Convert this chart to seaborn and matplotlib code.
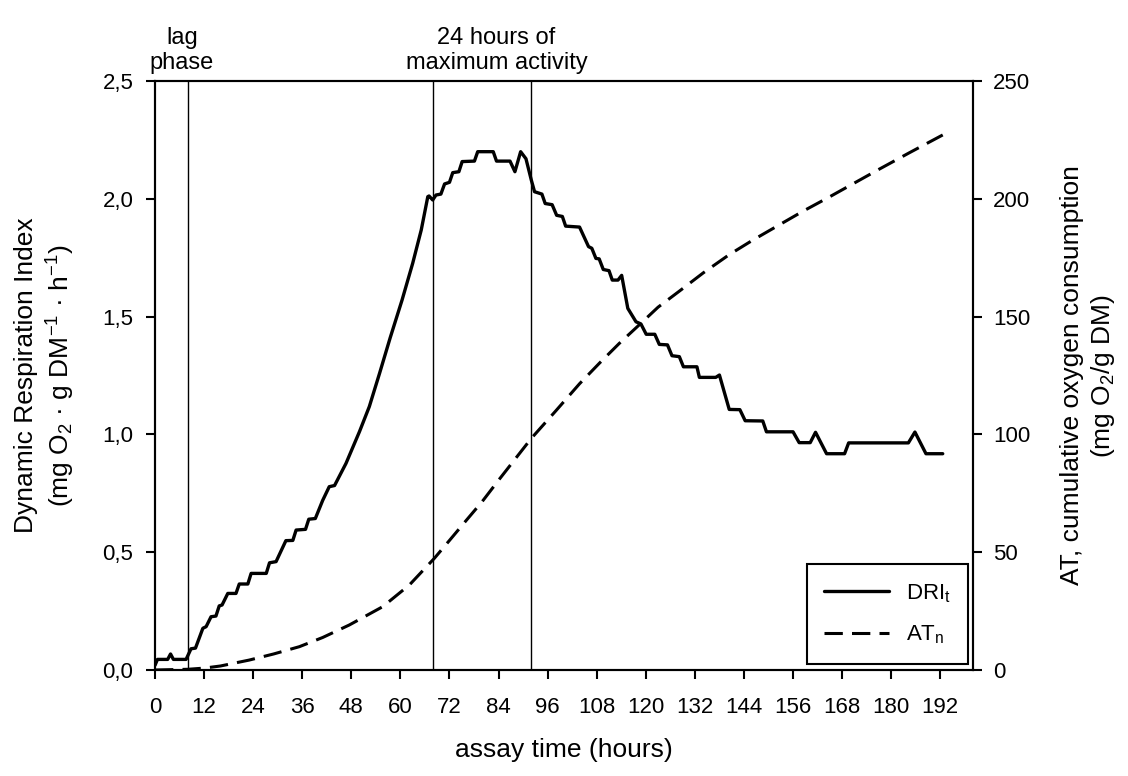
import matplotlib
matplotlib.use("Agg")
import matplotlib.pyplot as plt
import seaborn as sns
import pandas as pd
from matplotlib.ticker import FuncFormatter

# DRI_t (mg O2 / g DM / h)
hours_dri = [0, 0.6, 3.1, 3.8, 4.5, 7.6, 8.8, 9.9, 11.7, 12.5, 13.7, 14.9, 15.7, 16.4,
             17.8, 19.8, 20.6, 22.7, 23.5, 27.2, 28.0, 29.6, 32.0, 33.7, 34.5, 36.8,
             37.6, 39.2, 41.0, 42.6, 43.9, 46.7, 50.0, 52.4, 54.9, 57.5, 60.4, 63.0,
             65.1, 66.7, 67.0, 67.9, 68.7, 69.9, 70.8, 72.0, 72.8, 74.3, 75.1, 78.1,
             78.9, 82.7, 83.5, 86.8, 88.0, 89.4, 90.7, 92.0, 92.8, 94.6, 95.4, 97.1,
             98.2, 99.6, 100.4, 103.8, 106.0, 106.8, 107.8, 108.6, 109.6, 111.0, 111.8,
             113.2, 114.1, 115.6, 117.6, 118.8, 120.1, 122.2, 123.3, 125.3, 126.4,
             128.2, 129.2, 132.5, 133.1, 137.1, 138.0, 140.4, 143.0, 144.3, 148.6,
             149.5, 156.0, 157.5, 160.2, 161.5, 164.2, 168.6, 169.6, 184.2, 185.8,
             188.5, 192.6]
dri = [0.02, 0.045, 0.045, 0.068, 0.045, 0.045, 0.09, 0.093, 0.177, 0.184, 0.226, 0.229,
       0.272, 0.276, 0.325, 0.325, 0.365, 0.365, 0.41, 0.41, 0.455, 0.46, 0.549, 0.55,
       0.594, 0.597, 0.64, 0.643, 0.72, 0.778, 0.783, 0.877, 1.012, 1.118, 1.259, 1.41,
       1.57, 1.726, 1.868, 2.009, 2.012, 1.995, 2.016, 2.02, 2.063, 2.07, 2.111, 2.115,
       2.158, 2.16, 2.2, 2.2, 2.16, 2.16, 2.115, 2.2, 2.17, 2.08, 2.03, 2.02, 1.98,
       1.975, 1.93, 1.925, 1.884, 1.88, 1.797, 1.79, 1.747, 1.745, 1.70, 1.695, 1.655,
       1.655, 1.675, 1.535, 1.478, 1.469, 1.425, 1.425, 1.382, 1.38, 1.334, 1.33,
       1.287, 1.287, 1.242, 1.242, 1.252, 1.106, 1.105, 1.058, 1.057, 1.011, 1.011,
       0.965, 0.965, 1.009, 0.918, 0.918, 0.964, 0.964, 1.01, 0.918, 0.918]

# AT_n, cumulative oxygen consumption (mg O2 / g DM), dashed curve
hours_at = [0, 8, 12, 16, 23, 29, 35.3, 41, 47.5, 55.7, 62.2, 68.3, 72, 76.1, 80, 84.2,
            92, 98, 103.8, 108.7, 113.5, 118.4, 123, 128.2, 134, 140.4, 146, 152.7,
            158.5, 164.9, 171, 177.1, 184.5, 192.6]
at_n = [0, 0.3, 0.8, 1.7, 4.2, 6.8, 9.9, 13.8, 19.1, 26.9, 36.1, 47.4, 55, 63.5, 71.5, 81,
        98.3, 110, 121.5, 130.3, 138.6, 146.5, 154, 160.8, 168.5, 176.3, 182.3, 189,
        194.8, 200.8, 206.7, 212.6, 219.6, 227.1]

phase_marks = [8, 68, 92]
x_ticks = list(range(0, 193, 12))
left_ticks = [0, 0.5, 1.0, 1.5, 2.0, 2.5]
right_ticks = [0, 50, 100, 150, 200, 250]

sns.set_theme(style="ticks")
plt.rcParams["font.family"] = ["Liberation Sans", "DejaVu Sans"]
plt.rcParams["mathtext.default"] = "regular"
plt.rcParams["text.color"] = "black"
plt.rcParams["axes.labelcolor"] = "black"

fig = plt.figure(figsize=(11.28, 7.76), dpi=100)
ax = fig.add_axes([155 / 1128, 1 - 670 / 776, 818 / 1128, 589 / 776])
ax2 = ax.twinx()

dri_df = pd.DataFrame({"time": hours_dri, "dri": dri})
at_df = pd.DataFrame({"time": hours_at, "at": at_n})

for xm in phase_marks:
    ax.axvline(xm, color="black", lw=1.0, zorder=1)

sns.lineplot(data=dri_df, x="time", y="dri", ax=ax, color="black", lw=2.4,
             estimator=None, label=r"DRI$_t$", zorder=3)
sns.lineplot(data=at_df, x="time", y="at", ax=ax2, color="black", lw=2.2,
             estimator=None, label=r"AT$_n$", zorder=3)
ax2.lines[0].set_dashes((6, 3))

ax.set_xlim(0, 200)
ax.set_ylim(0, 2.5)
ax2.set_ylim(0, 250)
ax.set_xticks(x_ticks)
ax.set_yticks(left_ticks)
ax2.set_yticks(right_ticks)
ax.yaxis.set_major_formatter(FuncFormatter(lambda v, p: f"{v:.1f}".replace(".", ",")))

for a in (ax, ax2):
    for s in a.spines.values():
        s.set_visible(True)
        s.set_linewidth(1.5)
        s.set_color("black")
ax.tick_params(axis="x", direction="out", length=6.5, width=1.5, labelsize=16, pad=13, colors="black")
ax.tick_params(axis="y", direction="out", length=6.5, width=1.5, labelsize=16, pad=9, colors="black")
ax2.tick_params(axis="y", direction="out", length=6.5, width=1.5, labelsize=16, pad=8, colors="black")

ax.set_xlabel("assay time (hours)", fontsize=19, labelpad=14)
ax.set_ylabel("Dynamic Respiration Index\n(mg O$_2$ · g DM$^{-1}$ · h$^{-1}$)",
              fontsize=19, labelpad=18, linespacing=1.3)
ax2.set_ylabel("AT, cumulative oxygen consumption\n(mg O$_2$/g DM)",
               fontsize=19, labelpad=21, linespacing=1.25, rotation=90)

tr = ax.get_xaxis_transform()
ax.text(6.6, 1.012, "lag\nphase", transform=tr, ha="center", va="bottom",
        fontsize=17, multialignment="center")
ax.text(83.5, 1.012, "24 hours of\nmaximum activity", transform=tr, ha="center",
        va="bottom", fontsize=17, multialignment="center")

h1, l1 = ax.get_legend_handles_labels()
h2, l2 = ax2.get_legend_handles_labels()
for a in (ax, ax2):
    if a.get_legend() is not None:
        a.get_legend().remove()
leg = ax2.legend(h1 + h2, l1 + l2, loc="lower right", bbox_to_anchor=(0.994, 0.010),
                 borderaxespad=0, fontsize=16, frameon=True, fancybox=False,
                 edgecolor="black", handlelength=2.9, handletextpad=0.75,
                 borderpad=0.8, labelspacing=0.85)
leg.get_frame().set_linewidth(1.5)
leg.get_frame().set_alpha(1)

fig.savefig("out.png", dpi=100)
